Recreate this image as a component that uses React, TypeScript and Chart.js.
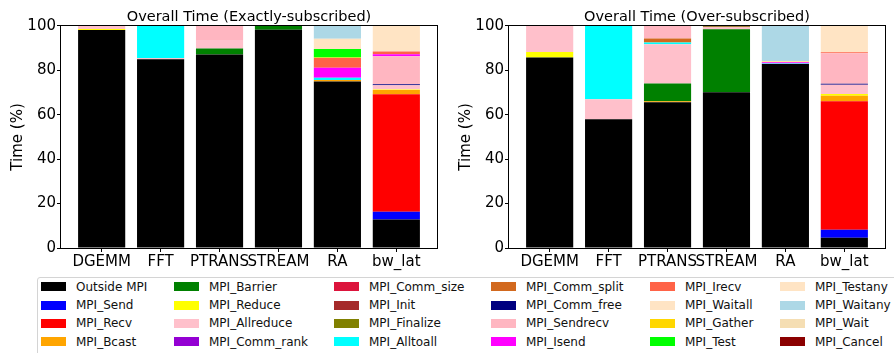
import { useEffect, useRef } from "react";
import { Chart, registerables } from "chart.js";

Chart.register(...registerables);

const FONT = "'DejaVu Sans', 'Liberation Sans', sans-serif";

const benchmarks = ["DGEMM", "FFT", "PTRANS", "STREAM", "RA", "bw_lat"];
const yTicks = [0, 20, 40, 60, 80, 100];

const callNames = [
  "Outside MPI", "MPI_Send", "MPI_Recv", "MPI_Bcast",
  "MPI_Barrier", "MPI_Reduce", "MPI_Allreduce", "MPI_Comm_rank",
  "MPI_Comm_size", "MPI_Init", "MPI_Finalize", "MPI_Alltoall",
  "MPI_Comm_split", "MPI_Comm_free", "MPI_Sendrecv", "MPI_Isend",
  "MPI_Irecv", "MPI_Waitall", "MPI_Gather", "MPI_Test",
  "MPI_Testany", "MPI_Waitany", "MPI_Wait", "MPI_Cancel",
];

const callColors = [
  "#000000", "#0000ff", "#ff0000", "#ffa500",
  "#008000", "#ffff00", "#ffc0cb", "#9400d3",
  "#dc143c", "#a52a2a", "#808000", "#00ffff",
  "#d2691e", "#000080", "#ffb6c1", "#ff00ff",
  "#ff6347", "#ffe4c4", "#ffd700", "#00ff00",
  "#ffe4c4", "#add8e6", "#f5deb3", "#8b0000",
];

// Share of run time (%) per call, listed in callNames order.
// Exactly-subscribed runs
const exactDGEMM = [98.2, 0, 0, 0, 0, 0.4, 1.4, 0, 0, 0, 0, 0, 0, 0, 0, 0, 0, 0, 0, 0, 0, 0, 0, 0];
const exactFFT = [85.0, 0, 0, 0, 0, 0, 0.5, 0, 0, 0, 0, 14.5, 0, 0, 0, 0, 0, 0, 0, 0, 0, 0, 0, 0];
const exactPTRANS = [87.1, 0, 0, 0, 2.7, 0, 3.9, 0, 0, 0, 0, 0, 0, 0, 6.3, 0, 0, 0, 0, 0, 0, 0, 0, 0];
const exactSTREAM = [98.3, 0, 0, 0, 1.7, 0, 0, 0, 0, 0, 0, 0, 0, 0, 0, 0, 0, 0, 0, 0, 0, 0, 0, 0];
const exactRA = [75.0, 0, 0, 0.6, 0, 0, 0, 0, 0, 0, 0, 1.1, 0, 0, 0, 4.5, 4.3, 0, 0.3, 3.8, 4.6, 5.8, 0, 0];
const exactBwLat = [12.8, 3.5, 52.9, 1.9, 0, 0.3, 1.9, 0, 0, 0, 0, 0, 0, 0.4, 12.6, 0.9, 1.3, 11.5, 0, 0, 0, 0, 0, 0];

// Over-subscribed runs
const overDGEMM = [85.8, 0, 0, 0, 0, 2.4, 11.8, 0, 0, 0, 0, 0, 0, 0, 0, 0, 0, 0, 0, 0, 0, 0, 0, 0];
const overFFT = [58.0, 0, 0, 0, 0, 0, 9.0, 0, 0, 0, 0, 33.0, 0, 0, 0, 0, 0, 0, 0, 0, 0, 0, 0, 0];
const overPTRANS = [65.6, 0, 0, 0.5, 8.0, 0, 17.6, 0, 0, 0, 0, 0.8, 1.8, 0, 5.7, 0, 0, 0, 0, 0, 0, 0, 0, 0];
const overSTREAM = [70.1, 0, 0, 0, 28.4, 0, 0.9, 0, 0, 0.2, 0.4, 0, 0, 0, 0, 0, 0, 0, 0, 0, 0, 0, 0, 0];
const overRA = [82.8, 0, 0, 0, 0, 0, 0, 0, 0, 0, 0, 0.3, 0, 0, 0, 0.5, 0, 0, 0.3, 0, 0.3, 15.8, 0, 0];
const overBwLat = [4.6, 3.6, 57.9, 2.5, 0, 0.7, 4.2, 0, 0, 0, 0, 0, 0, 0.4, 13.8, 0, 0.4, 11.9, 0, 0, 0, 0, 0, 0];

const exactRows = [exactDGEMM, exactFFT, exactPTRANS, exactSTREAM, exactRA, exactBwLat];
const overRows = [overDGEMM, overFFT, overPTRANS, overSTREAM, overRA, overBwLat];

// Draws the four-sided box around the plot area, on top of the bars.
const framePlugin = {
  id: "frame",
  afterDatasetsDraw(chart: Chart) {
    const { ctx, chartArea: a } = chart;
    ctx.save();
    ctx.strokeStyle = "#000";
    ctx.lineWidth = 1;
    ctx.strokeRect(
      Math.round(a.left) - 0.5,
      Math.round(a.top) - 0.5,
      Math.round(a.right) - Math.round(a.left) + 1,
      Math.round(a.bottom) - Math.round(a.top) + 1
    );
    ctx.restore();
  },
};

function Panel({ title, rows }: { title: string; rows: number[][] }) {
  const ref = useRef<HTMLCanvasElement>(null);

  useEffect(() => {
    const datasets = callNames.map((name, i) => ({
      label: name,
      data: benchmarks.map((_, c) => ({ x: c, y: rows[c][i] })),
      backgroundColor: callColors[i],
      borderWidth: 0,
      barPercentage: 0.8,
      categoryPercentage: 1.0,
    }));

    const chart = new Chart(ref.current!, {
      type: "bar",
      data: { datasets },
      plugins: [framePlugin],
      options: {
        animation: false,
        responsive: false,
        devicePixelRatio: 1,
        layout: { padding: { left: 0, right: 9, top: 0, bottom: 0 } },
        plugins: {
          legend: { display: false },
          tooltip: { enabled: false },
          title: {
            display: true,
            text: title,
            fullSize: false,
            color: "#000",
            font: { family: FONT, size: 14.5, weight: "normal", lineHeight: 1.2 },
            padding: { top: 8.5, bottom: 0 },
          },
        },
        scales: {
          x: {
            type: "linear",
            stacked: true,
            offset: false,
            min: -0.69,
            max: 5.69,
            afterBuildTicks: (s: any) => {
              s.ticks = benchmarks.map((_, i) => ({ value: i }));
            },
            afterFit: (s: any) => {
              s.height = 24;
            },
            grid: {
              offset: false,
              drawOnChartArea: false,
              drawTicks: true,
              tickLength: 4,
              color: "#000",
            },
            border: { display: false },
            ticks: {
              autoSkip: false,
              maxRotation: 0,
              minRotation: 0,
              padding: 1.5,
              color: "#000",
              font: { family: FONT, size: 15 },
              callback: (v: any) => benchmarks[v] ?? "",
            },
          },
          y: {
            stacked: true,
            min: 0,
            max: 100,
            afterBuildTicks: (s: any) => {
              s.ticks = yTicks.map((v) => ({ value: v }));
            },
            afterFit: (s: any) => {
              s.width = 61;
            },
            grid: {
              drawOnChartArea: false,
              drawTicks: true,
              tickLength: 4,
              color: "#000",
            },
            border: { display: false },
            ticks: {
              padding: 1,
              color: "#000",
              font: { family: FONT, size: 15 },
            },
            title: {
              display: true,
              text: "Time (%)",
              color: "#000",
              font: { family: FONT, size: 15 },
              padding: { top: 9, bottom: 0 },
            },
          },
        },
      } as any,
    });
    return () => chart.destroy();
  }, [title, rows]);

  return (
    <canvas
      ref={ref}
      width={446}
      height={272}
      style={{ display: "block", width: 446, height: 272 }}
    />
  );
}

const legendCols = [41, 174, 334, 491, 650, 780];
const legendRows = [286.5, 305, 323.4, 341.8];

function Legend() {
  return (
    <div
      style={{
        position: "absolute",
        left: 37,
        top: 277,
        width: 900,
        height: 100,
        border: "1px solid #d4d4d4",
        borderRadius: 3,
        boxSizing: "border-box",
        background: "#fff",
      }}
    >
      {callNames.map((name, i) => {
        const col = Math.floor(i / 4);
        const row = i % 4;
        const x = legendCols[col] - 38;
        const y = legendRows[row] - 278;
        return (
          <div key={name}>
            <div
              style={{
                position: "absolute",
                left: x,
                top: y - 4.5,
                width: 25,
                height: 9,
                background: callColors[i],
              }}
            />
            <div
              style={{
                position: "absolute",
                left: x + 35,
                top: y - 8,
                height: 16,
                lineHeight: "16px",
                fontFamily: FONT,
                fontSize: 12,
                color: "#111",
                whiteSpace: "nowrap",
              }}
            >
              {name}
            </div>
          </div>
        );
      })}
    </div>
  );
}

export default function App() {
  useEffect(() => {
    document.body.style.margin = "0";
    document.body.style.background = "#fff";
  }, []);

  return (
    <div
      style={{
        position: "relative",
        width: 894,
        height: 353,
        overflow: "hidden",
        background: "#fff",
      }}
    >
      <div style={{ position: "absolute", left: 0, top: 0 }}>
        <Panel title="Overall Time (Exactly-subscribed)" rows={exactRows} />
      </div>
      <div style={{ position: "absolute", left: 448, top: 0 }}>
        <Panel title="Overall Time (Over-subscribed)" rows={overRows} />
      </div>
      <Legend />
    </div>
  );
}
